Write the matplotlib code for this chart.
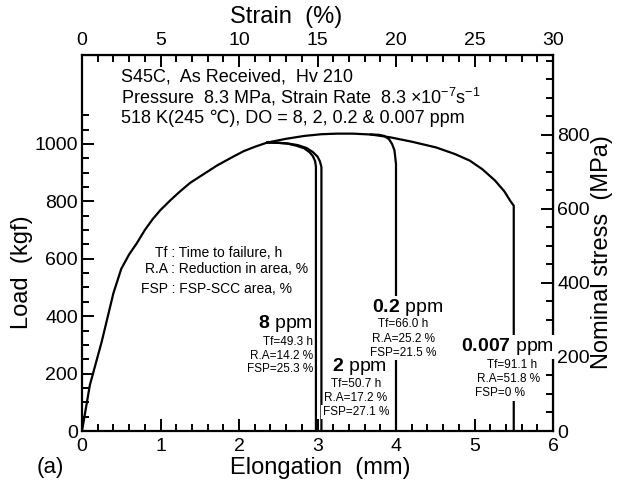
import numpy as np
import matplotlib.pyplot as plt
from matplotlib.ticker import MultipleLocator, FixedLocator

plt.rcParams['font.family'] = ['Liberation Sans', 'DejaVu Sans']
plt.rcParams['mathtext.fontset'] = 'custom'
plt.rcParams['mathtext.rm'] = 'Liberation Sans'
plt.rcParams['mathtext.bf'] = 'Liberation Sans:bold'
plt.rcParams['mathtext.it'] = 'Liberation Sans:italic'

# load-elongation curves (mm, kgf)
main_elong = [0, 0.1, 0.25, 0.4, 0.5, 0.6, 0.7, 0.8, 0.9, 1.0, 1.13, 1.25, 1.38,
              1.55, 1.72, 1.9, 2.06, 2.2, 2.36, 2.6, 2.83, 3.05, 3.25, 3.45, 3.68,
              3.93, 4.2, 4.51, 4.75, 4.94, 5.1, 5.26, 5.38, 5.46, 5.5, 5.5]
main_load = [0, 160, 310, 480, 565, 615, 655, 700, 738, 770, 805, 835, 865,
             895, 925, 952, 975, 990, 1005, 1018, 1028, 1034, 1036, 1036, 1033,
             1023, 1008, 988, 965, 942, 912, 873, 835, 800, 785, 0]
ppm8_elong = [2.36, 2.5, 2.62, 2.73, 2.83, 2.9, 2.94, 2.97, 2.98, 2.98]
ppm8_load = [1005, 1004, 1001, 994, 985, 971, 958, 940, 920, 0]
ppm2_elong = [2.36, 2.5, 2.62, 2.75, 2.86, 2.94, 3.0, 3.03, 3.05, 3.05]
ppm2_load = [1005, 1004, 1002, 996, 986, 972, 956, 940, 920, 0]
ppm02_elong = [3.68, 3.78, 3.85, 3.91, 3.95, 3.98, 3.99, 4.0, 4.0]
ppm02_load = [1033, 1032, 1028, 1017, 1000, 978, 955, 930, 0]

do_levels = ['8', '2', '0.2', '0.007']
tf = ['49.3', '50.7', '66.0', '91.1']
ra = ['14.2', '17.2', '25.2', '51.8']
fsp = ['25.3', '27.1', '21.5', '0']

mpa_per_kgf = 1 / 1.29

fig = plt.figure(figsize=(6.31, 4.83), dpi=100)
ax = fig.add_axes([82/631, 1-431/483, 471/631, 376/483])

lw = 1.6
ax.plot(main_elong, main_load, color='black', lw=lw, zorder=2)
ax.plot(ppm8_elong, ppm8_load, color='black', lw=lw, zorder=2)
ax.plot(ppm2_elong, ppm2_load, color='black', lw=lw, zorder=2)
ax.plot(ppm02_elong, ppm02_load, color='black', lw=lw, zorder=2)

ax.set_xlim(0, 6)
ax.set_ylim(0, 1310)
ax.xaxis.set_major_locator(FixedLocator(np.arange(0, 7, 1)))
ax.xaxis.set_minor_locator(FixedLocator(np.arange(0, 6.01, 0.2)))
ax.yaxis.set_major_locator(FixedLocator([0, 200, 400, 600, 800, 1000]))
ax.yaxis.set_minor_locator(FixedLocator(np.arange(0, 1101, 50)))
for s in ax.spines.values():
    s.set_linewidth(1.6)
ax.tick_params(which='both', direction='in', top=False, right=False, width=1.4, labelsize=14)
ax.tick_params(which='major', length=8.5)
ax.tick_params(which='minor', length=5)
ax.tick_params(axis='x', pad=5)
ax.tick_params(axis='y', pad=3)

top = ax.secondary_xaxis('top', functions=(lambda x: x * 5, lambda x: x / 5))
top.xaxis.set_major_locator(FixedLocator(np.arange(0, 31, 5)))
top.xaxis.set_minor_locator(FixedLocator(np.arange(0, 31, 1)))
top.tick_params(which='both', direction='in', width=1.4, labelsize=14, pad=4)
top.tick_params(which='major', length=8.5)
top.tick_params(which='minor', length=5)

right = ax.secondary_yaxis('right', functions=(lambda k: k * mpa_per_kgf, lambda s: s / mpa_per_kgf))
right.yaxis.set_major_locator(FixedLocator([0, 200, 400, 600, 800]))
right.yaxis.set_minor_locator(FixedLocator(np.arange(0, 1001, 50)))
right.tick_params(which='both', direction='in', width=1.4, labelsize=14, pad=3)
right.tick_params(which='major', length=8.5)
right.tick_params(which='minor', length=5)

ax.set_xlabel('Elongation  (mm)', fontsize=17)
ax.xaxis.set_label_coords(0.505, -0.098, transform=ax.transAxes)
ax.xaxis.label.set_va('center')
ax.set_ylabel('Load  (kgf)', fontsize=17)
ax.yaxis.set_label_coords(-0.127, 0.423, transform=ax.transAxes)
ax.yaxis.label.set_va('center')
top.set_xlabel('Strain  (%)', fontsize=17)
top.xaxis.set_label_coords(0.433, 1.101, transform=ax.transAxes)
top.xaxis.label.set_va('center')
right.set_ylabel('Nominal stress  (MPa)', fontsize=17)
right.yaxis.set_label_coords(1.104, 0.476, transform=ax.transAxes)
right.yaxis.label.set_va('center')

fig.text(50/631, 1-467/483, '(a)', fontsize=16, ha='center', va='center')

# header
ax.text(0.5, 1233, 'S45C,  As Received,  Hv 210', fontsize=13, va='center')
ax.text(0.5, 1164, r'Pressure  8.3 MPa, Strain Rate  8.3 $\times$10$^{-7}$s$^{-1}$',
        fontsize=13, va='center')
ax.text(0.5, 1091, '518 K(245 \u2103), DO = 8, 2, 0.2 & 0.007 ppm', fontsize=13, va='center')

ax.text(0.93, 620, 'Tf : Time to failure, h', fontsize=10, va='center')
ax.text(0.80, 564, 'R.A : Reduction in area, %', fontsize=10, va='center')
ax.text(0.75, 495, 'FSP : FSP-SCC area, %', fontsize=10, va='center')

wb = dict(facecolor='white', edgecolor='none', pad=1)
small = 8.5
big = 14

# 8 ppm
ax.text(2.94, 376, r'$\mathbf{%s}$ ppm' % do_levels[0], fontsize=big, ha='right', va='center')
ax.text(2.94, 310, 'Tf=%s h' % tf[0], fontsize=small, ha='right', va='center')
ax.text(2.94, 261, 'R.A=%s %%' % ra[0], fontsize=small, ha='right', va='center')
ax.text(2.94, 216, 'FSP=%s %%' % fsp[0], fontsize=small, ha='right', va='center')

# 2 ppm
ax.text(3.18, 223, r'$\mathbf{%s}$ ppm' % do_levels[1], fontsize=big, ha='left', va='center', bbox=wb)
ax.text(3.49, 164, 'Tf=%s h' % tf[1], fontsize=small, ha='center', va='center', bbox=wb)
ax.text(3.49, 115, 'R.A=%s %%' % ra[1], fontsize=small, ha='center', va='center', bbox=wb)
ax.text(3.49, 66, 'FSP=%s %%' % fsp[1], fontsize=small, ha='center', va='center', bbox=wb)

# 0.2 ppm
ax.text(4.15, 429, r'$\mathbf{%s}$ ppm' % do_levels[2], fontsize=big, ha='center', va='center', bbox=wb)
ax.text(4.09, 373, 'Tf=%s h' % tf[2], fontsize=small, ha='center', va='center', bbox=wb)
ax.text(4.09, 321, 'R.A=%s %%' % ra[2], fontsize=small, ha='center', va='center', bbox=wb)
ax.text(4.09, 272, 'FSP=%s %%' % fsp[2], fontsize=small, ha='center', va='center', bbox=wb)

# 0.007 ppm
ax.text(5.42, 293, r'$\mathbf{%s}$ ppm' % do_levels[3], fontsize=big, ha='center', va='center', bbox=wb)
ax.text(5.48, 230, 'Tf=%s h' % tf[3], fontsize=small, ha='center', va='center', bbox=wb)
ax.text(5.44, 181, 'R.A=%s %%' % ra[3], fontsize=small, ha='center', va='center', bbox=wb)
ax.text(5.32, 132, 'FSP=%s %%' % fsp[3], fontsize=small, ha='center', va='center', bbox=wb)

fig.savefig('out.png', dpi=100)
